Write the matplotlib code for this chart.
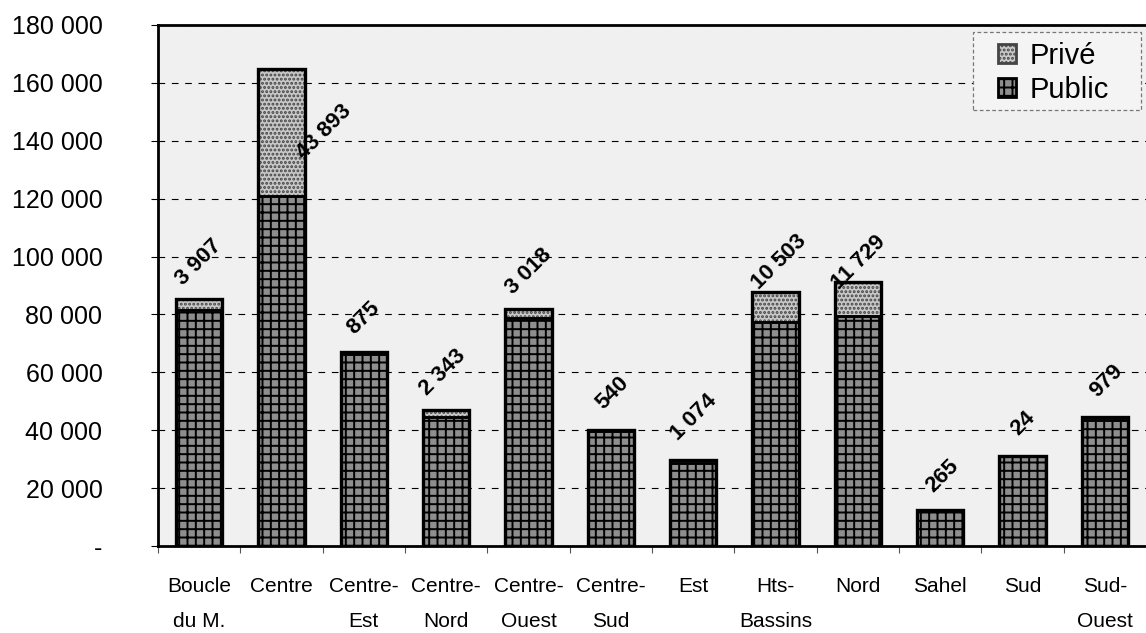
import numpy as np
import matplotlib
matplotlib.use("Agg")
import matplotlib.pyplot as plt
from matplotlib.patches import Rectangle
from matplotlib.ticker import FuncFormatter, MultipleLocator

regions = ["Boucle\ndu M.", "Centre", "Centre-\nEst", "Centre-\nNord", "Centre-\nOuest",
           "Centre-\nSud", "Est", "Hts-\nBassins", "Nord", "Sahel", "Sud", "Sud-\nOuest"]
public = [81500, 121000, 66200, 44600, 78900, 39700, 28800, 77400, 79600, 12300, 31000, 43500]
prive = [3907, 43893, 875, 2343, 3018, 540, 1074, 10503, 11729, 265, 24, 979]

# label offsets in pixels from bar top (dx, dy)
label_off = [(0, 36), (43, -63), (0, 34), (-3, 38), (0, 37), (2, 37),
             (1, 42), (4, 30), (1, 19), (2, 34), (1, 33), (2, 36)]

plt.rcParams['font.family'] = ['Liberation Sans', 'DejaVu Sans']
plt.rcParams['hatch.linewidth'] = 1.4

W, H = 1146, 633
fig = plt.figure(figsize=(W / 100, H / 100), dpi=100)
ax = fig.add_axes([158/W, 1 - 546/H, 1 - 158/W, (546 - 25)/H])
ax.set_facecolor('#f0f0f0')

x = np.arange(len(regions))
w = 0.56
ax.bar(x, public, w, color='#8e8e8e', edgecolor='black', hatch='++',
       linewidth=2, label='Public', zorder=3)
ax.bar(x, prive, w, bottom=public, color='#c8c8c8', edgecolor='#444444',
       hatch='....', linewidth=2, label='Privé', zorder=3)
# black outline over the stacks
ax.bar(x, np.array(public) + np.array(prive), w, fill=False, edgecolor='black',
       linewidth=2.4, zorder=4)
ax.bar(x, public, w, fill=False, edgecolor='black', linewidth=2, zorder=4)

for i in range(len(regions)):
    tot = public[i] + prive[i]
    ax.annotate(f"{prive[i]:,}".replace(",", " "), (x[i], tot),
                xytext=label_off[i], textcoords='offset pixels',
                rotation=45, ha='center', va='center', fontsize=16,
                fontweight='bold', zorder=5)

ax.set_xlim(-0.5, 11.5)
ax.set_ylim(0, 180000)
ax.yaxis.set_major_locator(MultipleLocator(20000))
ax.yaxis.set_major_formatter(FuncFormatter(
    lambda v, p: "-" if v == 0 else f"{int(v):,}".replace(",", " ")))
ax.grid(axis='y', color='black', linestyle=(0, (6, 6)), linewidth=0.8, zorder=1)
ax.tick_params(axis='y', length=5, width=0.8, pad=35, labelsize=18)

ax.set_xticks(x)
ax.set_xticklabels(regions, fontsize=15, linespacing=2.1)
ax.set_xticks([-0.5] + list(x[:-1] + 0.5), minor=True)
ax.tick_params(axis='x', which='major', length=0, pad=22)
ax.tick_params(axis='x', which='minor', length=5, width=0.8, color='#555555')

for s in ['top', 'left', 'bottom']:
    ax.spines[s].set_linewidth(2)
ax.spines['right'].set_visible(False)

# legend box drawn separately so the padding can match
box = Rectangle((973/W, 1 - 110/H), 168/W, 78/H, transform=fig.transFigure,
                facecolor='#f4f4f4', edgecolor='#777777', linewidth=0.9,
                linestyle=(0, (3, 2)), zorder=5)
fig.add_artist(box)
h, l = ax.get_legend_handles_labels()
leg = fig.legend([h[1], h[0]], [l[1], l[0]], loc='upper left',
                 bbox_to_anchor=(998/W, 1 - 42/H), borderaxespad=0,
                 fontsize=21, frameon=False, handlelength=0.6, handleheight=0.6,
                 handletextpad=0.5, labelspacing=0.2, borderpad=0)
leg.set_zorder(6)

fig.savefig("out.png", dpi=100)
